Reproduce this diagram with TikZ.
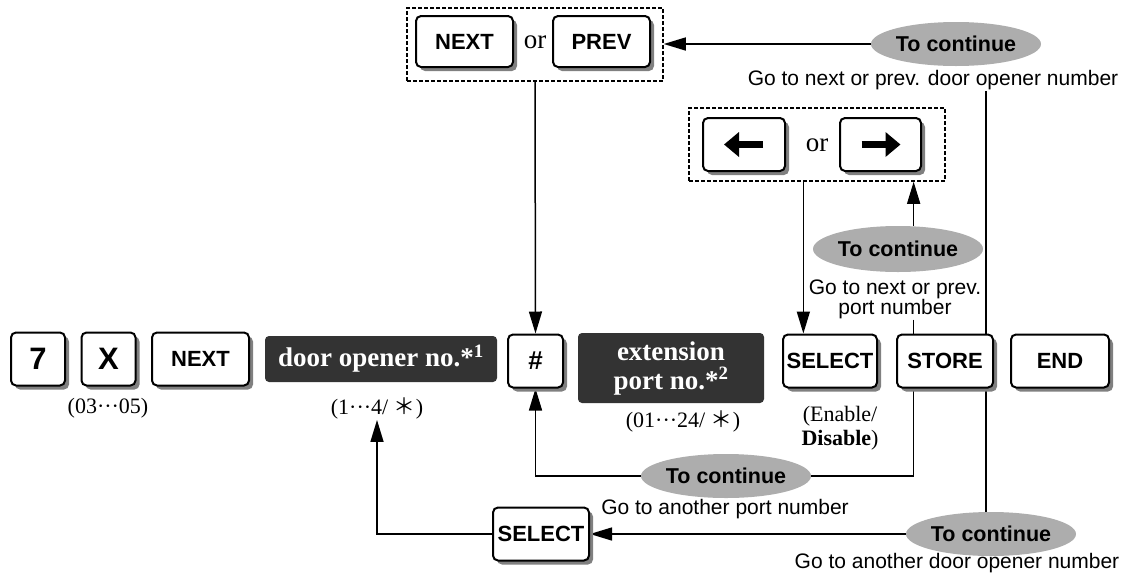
\documentclass[tikz,border=0pt]{standalone}
\usepackage{fontspec}
\setmainfont{Liberation Serif}
\setsansfont{Liberation Sans}
\newfontfamily\cjkfont{Noto Sans CJK JP}
\usetikzlibrary{positioning,calc,shapes.geometric,shadows,arrows.meta}
\pgfdeclarelayer{background}
\pgfsetlayers{background,main}

\tikzset{
  keybox/.style={draw, line width=2pt, fill=white, rounded corners=5pt, minimum height=53pt,
    inner sep=2pt, font=\sffamily\bfseries\fontsize{22}{22}\selectfont,
    drop shadow={shadow xshift=4pt, shadow yshift=-4pt, fill=black!50, opacity=1}},
  bigkey/.style={keybox, font=\sffamily\bfseries\fontsize{31}{31}\selectfont},
  entrybox/.style={fill=black!80, rounded corners=4pt, text=white, align=center,
    font=\bfseries\fontsize{27}{29}\selectfont},
  contoval/.style={ellipse, fill=black!32, minimum width=148pt, minimum height=44pt,
    inner sep=0pt, font=\sffamily\bfseries\fontsize{21.5}{21.5}\selectfont},
  notetext/.style={font=\sffamily\fontsize{21}{20}\selectfont, align=center, inner sep=1pt},
  rangetext/.style={font=\fontsize{22}{24}\selectfont, align=center, inner sep=1pt},
  ortext/.style={font=\fontsize{27}{27}\selectfont},
  choicebox/.style={draw, line width=1.5pt, dash pattern=on 4pt off 2pt,
    minimum width=256pt, minimum height=73pt},
  flowline/.style={line width=1.5pt},
  flowarrow/.style={flowline, -{Triangle[length=22pt, width=13pt]}},
  keyarrow/.style={line width=7pt, -{Triangle[length=15pt, width=24pt]}},
}

\begin{document}
\begin{tikzpicture}[x=1pt, y=-1pt]
  \useasboundingbox (0,0) rectangle (1131,579);

  % main row
  \node[bigkey, minimum width=54pt] (k7) at (38,359) {7};
  \node[bigkey, minimum width=54pt] (kx) at (108.5,359) {X};
  \node[keybox, minimum width=97pt] (knext) at (200.5,359) {NEXT};
  \node[entrybox, minimum width=232pt, minimum height=46pt] (door) at (381,359) {door opener no.*\textsuperscript{1}};
  \node[keybox, minimum width=55pt, font=\sffamily\bfseries\fontsize{26}{26}\selectfont] (hash) at (535.5,361) {\#};
  \node[entrybox, minimum width=186pt, minimum height=70pt] (ext) at (671,368) {extension\\port no.*\textsuperscript{2}};
  \node[keybox, minimum width=94pt] (sela) at (830,361) {SELECT};
  \node[keybox, minimum width=96pt] (store) at (945,361) {STORE};
  \node[keybox, minimum width=98pt] (kend) at (1060,361) {END};

  \node[rangetext] (r7) at (108,408) {(03···05)};
  \node[rangetext] (rdoor) at (377,408) {(1···4/ {\cjkfont ＊})};
  \node[rangetext] (rext) at (683,421) {(01···24/ {\cjkfont ＊})};
  \node[rangetext] (rsel) at (840,428) {(Enable/\\\textbf{Disable})};

  % door opener choice
  \node[choicebox] (topchoice) at (535,44.5) {};
  \node[keybox, minimum width=97pt, minimum height=51pt] (tnext) at (464.5,41.5) {NEXT};
  \node[ortext] (tor) at (535,42) {or};
  \node[keybox, minimum width=97pt, minimum height=51pt] (tprev) at (601.5,41.5) {PREV};
  \node[contoval] (tcont) at (956,44) {To continue};
  \node[notetext] (tnote) at (933,80) {Go to next or prev. door opener number};

  % port choice
  \node[choicebox] (pchoice) at (817,144.5) {};
  \node[keybox, minimum width=82pt] (kleft) at (744,144.5) {};
  \node[ortext] (mor) at (817,145) {or};
  \node[keybox, minimum width=81pt] (kright) at (880.5,144.5) {};
  \draw[keyarrow] ([xshift=19pt]kleft.center) -- ([xshift=-20pt]kleft.center);
  \draw[keyarrow] ([xshift=-19pt]kright.center) -- ([xshift=20pt]kright.center);
  \node[contoval, minimum width=150pt, minimum height=46pt] (pcont) at (898,249) {To continue};
  \node[notetext] (pnote) at (895,299) {Go to next or prev.\\port number};

  % loops back
  \node[contoval] (acont) at (726,476) {To continue};
  \node[notetext] (anote) at (725,509) {Go to another port number};
  \node[keybox, minimum width=96pt] (selb) at (541,534) {SELECT};
  \node[contoval, minimum width=150pt] (dcont) at (991,534) {To continue};
  \node[notetext] (dnote) at (957,563) {Go to another door opener number};

  \coordinate (pdown) at ($(pchoice.south west)!0.447!(pchoice.south east)$);
  \coordinate (sup) at ($(store.north west)!0.18!(store.north east)$);

  \begin{pgfonlayer}{background}
    \draw[flowarrow] (tcont.west) -- (tcont.west -| topchoice.east);
    \draw[flowarrow] (topchoice.south) -- (hash.north);
    \draw[flowline] ([xshift=-5pt]tnote.south -| dcont.north) -- ([xshift=-5pt]dcont.north);
    \draw[flowarrow] (dcont.west) -- (selb.east);
    \draw[flowarrow] (selb.west) -| (rdoor.south);
    \draw[flowarrow] (pdown) -- (pdown |- sela.north);
    \draw[flowline] (sup |- pnote.south) -- (sup |- acont.east) -- (acont.east);
    \draw[flowarrow] (acont.west) -| (hash.south);
    \draw[flowarrow] (sup |- pcont.north) -- (sup |- pchoice.south);
  \end{pgfonlayer}
\end{tikzpicture}
\end{document}
